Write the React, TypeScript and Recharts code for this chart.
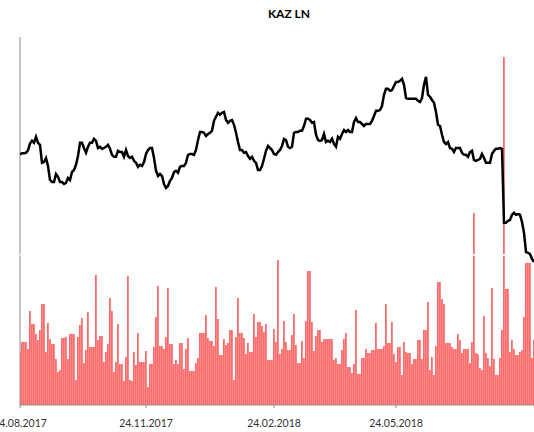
import React from 'react';
import { ComposedChart, Line, Bar, XAxis, YAxis, ReferenceLine } from 'recharts';

// Trading-day index of each x-axis tick and its label
const tickDays = [0, 63, 127, 188];
const tickLabels = ['24.08.2017', '24.11.2017', '24.02.2018', '24.05.2018'];

// Daily close (pence), one value per trading day
const price = [
  814, 817, 817, 818, 824, 841, 848, 843, 858, 843,
  838, 793, 795, 805, 785, 750, 745, 745, 765, 758,
  745, 745, 740, 743, 755, 750, 770, 775, 788, 810,
  843, 843, 830, 818, 833, 843, 843, 853, 848, 830,
  833, 828, 830, 833, 838, 828, 813, 808, 808, 823,
  820, 820, 808, 825, 810, 805, 808, 798, 793, 783,
  788, 785, 795, 815, 825, 830, 830, 805, 773, 760,
  765, 760, 740, 730, 735, 748, 755, 770, 773, 768,
  783, 785, 785, 793, 813, 815, 815, 813, 825, 850,
  870, 870, 868, 860, 865, 868, 873, 898, 908, 918,
  913, 918, 920, 900, 893, 898, 900, 888, 868, 845,
  825, 825, 818, 820, 810, 803, 808, 798, 793, 775,
  775, 785, 803, 823, 835, 830, 825, 815, 813, 820,
  825, 835, 853, 850, 833, 830, 833, 868, 870, 870,
  873, 873, 885, 903, 903, 900, 893, 895, 863, 850,
  848, 850, 865, 845, 848, 845, 853, 840, 833, 858,
  853, 865, 875, 870, 875, 870, 870, 895, 905, 895,
  895, 890, 885, 890, 890, 890, 898, 910, 923, 923,
  925, 935, 963, 978, 978, 973, 975, 985, 995, 995,
  998, 1003, 988, 955, 953, 953, 953, 953, 953, 948,
  945, 955, 988, 1008, 963, 958, 950, 943, 920, 888,
  885, 863, 845, 840, 845, 830, 828, 820, 830, 830,
  830, 818, 813, 813, 808, 820, 823, 800, 798, 800,
  803, 815, 805, 793, 793, 793, 815, 823, 828, 828,
  830, 828, 643, 643, 648, 650, 663, 668, 663, 665,
  663, 645, 618, 570, 568, 565, 553, 545,
];

// Daily volume (millions of shares)
const volume = [
  2.65, 3.15, 3.15, 3.15, 2.8, 4.7, 4.05, 4.05, 3.55, 3.25,
  3.75, 5.05, 5.05, 2.65, 4.1, 3.3, 3.05, 3.05, 2.3, 1.65,
  1.75, 3.35, 3.35, 3.4, 2.3, 3.55, 3.55, 3.55, 1.25, 3.4,
  4.0, 4.35, 2.1, 2.75, 4.65, 2.9, 2.9, 2.9, 6.5, 3.25,
  3.45, 3.45, 2.15, 2.65, 3.05, 5.35, 4.7, 1.65, 2.15, 4.05,
  2.05, 2.05, 1.2, 2.4, 6.45, 1.25, 1.2, 2.65, 2.0, 3.6,
  2.15, 2.15, 2.15, 2.7, 0.9, 2.05, 2.05, 2.9, 4.4, 5.95,
  2.95, 2.95, 2.8, 3.4, 5.85, 3.05, 3.05, 2.05, 2.25, 2.05,
  3.1, 3.1, 1.8, 2.8, 3.35, 1.7, 1.7, 1.7, 2.1, 2.35,
  3.6, 3.6, 3.6, 4.5, 3.35, 3.2, 3.2, 2.95, 5.9, 4.3,
  2.5, 2.5, 3.3, 3.0, 3.1, 3.75, 3.75, 1.25, 3.4, 5.35,
  3.6, 3.6, 3.35, 2.55, 3.1, 2.65, 2.65, 4.55, 3.4, 4.15,
  4.15, 3.95, 3.65, 4.05, 2.25, 2.25, 2.25, 3.8, 3.15, 7.25,
  2.55, 2.8, 4.2, 3.15, 2.75, 2.75, 3.5, 4.55, 3.0, 2.1,
  2.1, 3.2, 2.35, 4.2, 6.7, 6.7, 4.15, 2.7, 3.45, 3.75,
  3.75, 3.15, 3.3, 3.3, 3.3, 3.3, 3.3, 2.25, 2.35, 2.05,
  2.05, 2.75, 3.3, 3.6, 1.9, 1.9, 1.6, 2.05, 4.75, 1.55,
  1.55, 2.35, 2.35, 2.8, 2.6, 2.6, 2.75, 2.75, 4.1, 2.8,
  2.8, 2.8, 2.95, 5.05, 3.1, 3.1, 4.15, 2.55, 2.15, 2.9,
  2.9, 1.5, 3.15, 2.65, 2.6, 2.6, 2.05, 2.3, 2.3, 3.25,
  3.25, 2.3, 3.75, 3.75, 5.15, 1.75, 2.4, 1.5, 2.95, 6.15,
  6.15, 5.3, 5.05, 3.1, 3.1, 3.1, 2.9, 2.8, 2.8, 3.55,
  3.25, 2.6, 2.8, 2.8, 2.8, 2.1, 3.15, 9.6, 2.6, 2.55,
  1.85, 1.75, 4.45, 2.6, 2.35, 1.95, 5.85, 2.3, 1.5, 1.5,
  2.35, 3.75, 17.4, 5.8, 5.8, 2.65, 3.25, 2.8, 2.5, 2.5,
  2.65, 2.75, 4.4, 7.1, 7.1, 7.1, 2.35, 3.25,
];

const data = price.map((p, i) => ({ i, price: p, volume: volume[i] }));

const labelFor = (v: number) => {
  const k = tickDays.indexOf(v);
  return k >= 0 ? tickLabels[k] : '';
};

export default function App() {
  return (
    <div style={{ position: 'absolute', left: 0, top: 0, width: 534, height: 432, background: '#fff', overflow: 'hidden' }}>
      <div
        style={{
          position: 'absolute',
          left: 189,
          top: 8,
          width: 200,
          textAlign: 'center',
          fontFamily: 'Lato',
          fontWeight: 700,
          fontSize: 12,
          lineHeight: '12px',
          color: '#000',
        }}
      >
        KAZ LN
      </div>
      <ComposedChart width={534} height={432} data={data} margin={{ top: 37, right: 0, bottom: 0, left: 20 }}>
        <XAxis
          dataKey="i"
          type="number"
          domain={[0, 257]}
          allowDataOverflow
          ticks={tickDays}
          interval={0}
          tickFormatter={labelFor}
          height={27}
          axisLine={{ stroke: '#8c8c8c' }}
          tickLine={{ stroke: '#8c8c8c' }}
          tickSize={3}
          tickMargin={12}
          tick={{ fontFamily: 'Lato', fontSize: 10.5, fill: '#333' }}
        />
        <YAxis yAxisId="vol" domain={[0, 18.4]} allowDataOverflow hide />
        <YAxis yAxisId="price" domain={[187.5, 1107.5]} allowDataOverflow hide />
        <Bar yAxisId="vol" dataKey="volume" barSize={2} fill="#ff6b6b" isAnimationActive={false} />
        <ReferenceLine yAxisId="vol" x={0} stroke="#8c8c8c" strokeWidth={1} />
        <ReferenceLine yAxisId="vol" y={7.5} stroke="#ffffff" strokeWidth={2} />
        <Line
          yAxisId="price"
          dataKey="price"
          type="linear"
          stroke="#000"
          strokeWidth={2.5}
          dot={false}
          isAnimationActive={false}
        />
      </ComposedChart>
    </div>
  );
}
